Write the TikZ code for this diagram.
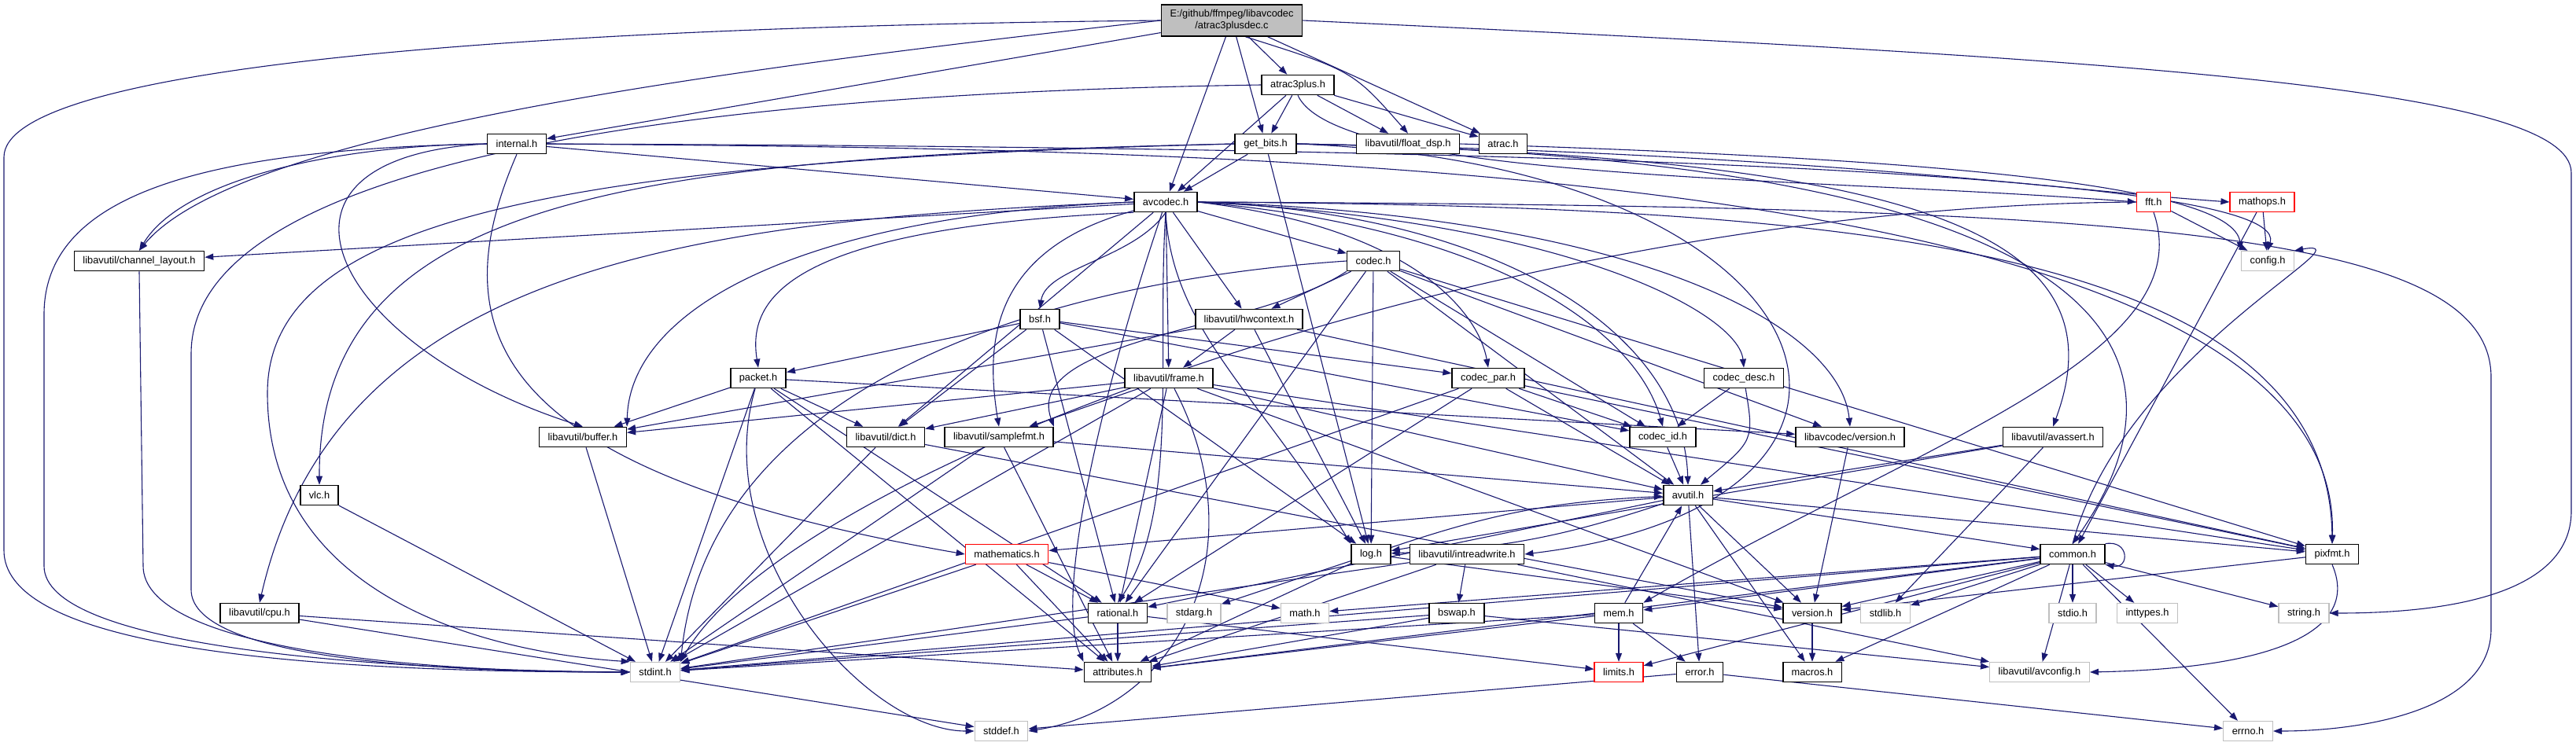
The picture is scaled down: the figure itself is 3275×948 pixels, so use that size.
\documentclass[tikz,border=0pt]{standalone}
\usepackage{fontspec}
\setmainfont{Liberation Sans}
\usepackage{tikz}
\usetikzlibrary{arrows.meta, backgrounds}
\usepackage{xcolor}
\definecolor{incblue}{HTML}{191970}
\definecolor{sysgray}{HTML}{BFBFBF}
\definecolor{cutred}{HTML}{FF0000}
\definecolor{srcfill}{HTML}{BFBFBF}

\begin{document}
\begin{tikzpicture}[x=0.5pt, y=-0.5pt, font=\fontsize{6.4}{7.6}\selectfont,
  hdr/.style={draw=black, fill=white, line width=0.8pt, inner xsep=5.5pt, inner ysep=0pt, minimum height=12.5pt},
  syshdr/.style={hdr, draw=sysgray, line width=0.7pt},
  cuthdr/.style={hdr, draw=cutred, line width=0.7pt},
  inc/.style={draw=incblue, line width=0.55pt, -{Triangle[length=5.5pt, width=4pt]}}]
\useasboundingbox (0,0) rectangle (3275,948);

% Source file
\node[hdr, fill=srcfill, align=center, minimum height=20pt] (mainsrc) at (1566,26) {E:/github/ffmpeg/libavcodec\\/atrac3plusdec.c};

% libavcodec headers
\node[hdr] (atracplus) at (1650,108) {atrac3plus.h};
\node[hdr] (getbits) at (1609,183) {get\_bits.h};
\node[hdr] (floatdsp) at (1790,183) {libavutil/float\_dsp.h};
\node[hdr] (atrach) at (1911,183) {atrac.h};
\node[hdr] (internal) at (657,183) {internal.h};
\node[hdr] (avcodec) at (1482,257) {avcodec.h};
\node[cuthdr] (ffth) at (2738,257) {fft.h};
\node[cuthdr] (mathops) at (2876,257) {mathops.h};
\node[hdr] (chlayout) at (177,332) {libavutil/channel\_layout.h};
\node[hdr] (codech) at (1746,332) {codec.h};
\node[syshdr] (configh) at (2883,332) {config.h};
\node[hdr] (bsfh) at (1322,406) {bsf.h};
\node[hdr] (hwctx) at (1588,406) {libavutil/hwcontext.h};
\node[hdr] (packeth) at (964,481) {packet.h};
\node[hdr] (frameh) at (1486,481) {libavutil/frame.h};
\node[hdr] (codecpar) at (1892,481) {codec\_par.h};
\node[hdr] (codecdesc) at (2217,481) {codec\_desc.h};
\node[hdr] (bufferh) at (741,556) {libavutil/buffer.h};
\node[hdr] (dicth) at (1126,556) {libavutil/dict.h};
\node[hdr] (samplefmt) at (1270,556) {libavutil/samplefmt.h};
\node[hdr] (codecid) at (2114,556) {codec\_id.h};
\node[hdr] (lavcver) at (2352,556) {libavcodec/version.h};
\node[hdr] (avassert) at (2610,556) {libavutil/avassert.h};
\node[hdr] (vlch) at (406,630) {vlc.h};

% libavutil headers
\node[hdr] (avutil) at (2146,630) {avutil.h};
\node[cuthdr] (mathem) at (1280,705) {mathematics.h};
\node[hdr] (logh) at (1743,705) {log.h};
\node[hdr] (intrw) at (1865,705) {libavutil/intreadwrite.h};
\node[hdr] (commonh) at (2635,705) {common.h};
\node[hdr] (pixfmt) at (2965,705) {pixfmt.h};
\node[hdr] (cpuh) at (330,780) {libavutil/cpu.h};
\node[hdr] (rationalh) at (1421,780) {rational.h};
\node[syshdr] (stdargh) at (1518,780) {stdarg.h};
\node[syshdr] (mathh) at (1659,780) {math.h};
\node[hdr] (bswaph) at (1852,780) {bswap.h};
\node[hdr] (memh) at (2058,780) {mem.h};
\node[hdr] (versionh) at (2304,780) {version.h};
\node[syshdr] (stdlibh) at (2397,780) {stdlib.h};
\node[syshdr] (stdioh) at (2635,780) {stdio.h};
\node[syshdr] (inttypesh) at (2730,780) {inttypes.h};
\node[syshdr] (stringh) at (2929,780) {string.h};
\node[syshdr] (stdinth) at (833,855) {stdint.h};
\node[hdr] (attribh) at (1421,855) {attributes.h};
\node[cuthdr] (limitsh) at (2058,855) {limits.h};
\node[hdr] (errorh) at (2161,855) {error.h};
\node[hdr] (macrosh) at (2304,855) {macros.h};
\node[syshdr] (avconfig) at (2593,855) {libavutil/avconfig.h};
\node[syshdr] (stddefh) at (1273,930) {stddef.h};
\node[syshdr] (errnoh) at (2858,930) {errno.h};

\begin{scope}[on background layer]
\fill[white] (0,0) rectangle (3275,948);

% atrac3plusdec.c
\draw[inc] (mainsrc.west) .. controls (600,35) and (5,90) .. (5,200) -- (5,700) .. controls (5,810) and (300,855) .. (stdinth.west);
\draw[inc] (mainsrc.east) .. controls (2700,75) and (3269,110) .. (3269,220) -- (3269,650) .. controls (3269,760) and (3100,780) .. (stringh.east);
\draw[inc] (mainsrc) -- (internal);
\draw[inc] (mainsrc.west) .. controls (900,90) and (300,170) .. (chlayout.north);
\draw[inc] (mainsrc) -- (avcodec);
\draw[inc] (mainsrc) -- (getbits);
\draw[inc] (mainsrc) -- (atracplus);
\draw[inc] (mainsrc.-50) .. controls (1720,90) .. (floatdsp.north);
\draw[inc] (mainsrc) -- (atrach);

% atrac3plus.h
\draw[inc] (atracplus) -- (getbits);
\draw[inc] (atracplus) -- (avcodec);
\draw[inc] (atracplus) -- (floatdsp);
\draw[inc] (atracplus) -- (atrach);
\draw[inc] (atracplus.south) .. controls (1700,230) and (2300,225) .. (ffth.west);
\draw[inc] (atracplus.west) .. controls (800,120) and (243,220) .. (243,450) -- (243,750) .. controls (243,830) and (500,855) .. (stdinth.west);

% get_bits.h
\draw[inc] (getbits) -- (avcodec);
\draw[inc] (getbits.west) .. controls (800,200) and (405,250) .. (vlch.north);
\draw[inc] (getbits.west) .. controls (700,205) and (340,280) .. (340,500) .. controls (340,760) and (620,830) .. (stdinth.north west);
\draw[inc] (getbits) -- (logh);
\draw[inc] (getbits.east) .. controls (2300,195) and (2600,240) .. (mathops.west);
\draw[inc] (getbits.east) .. controls (2450,200) and (2700,300) .. (avassert.north);
\draw[inc] (getbits.east) .. controls (2650,200) and (2820,430) .. (commonh.north);
\draw[inc] (getbits.east) .. controls (2350,210) and (2480,640) .. (intrw.east);

% internal.h
\draw[inc] (internal) -- (avcodec);
\draw[inc] (internal.west) .. controls (420,185) and (230,230) .. (chlayout.north);
\draw[inc] (internal.west) .. controls (250,190) and (56,250) .. (56,400) -- (56,720) .. controls (56,820) and (450,852) .. (stdinth.west);
\draw[inc] (internal.west) .. controls (300,200) and (420,440) .. (bufferh.north);
\draw[inc] (internal.south) .. controls (560,420) and (620,600) .. (mathem.west);
\draw[inc] (internal.east) .. controls (1500,190) and (2980,195) .. (pixfmt.north);
\draw[inc] (internal.east) .. controls (1500,186) and (2920,200) .. (configh.north);

% avcodec.h
\draw[inc] (avcodec) -- (chlayout);
\draw[inc] (avcodec.west) .. controls (900,280) and (430,330) .. (cpuh.north);
\draw[inc] (avcodec.west) .. controls (1000,275) and (800,400) .. (bufferh.north east);
\draw[inc] (avcodec.south west) .. controls (1000,290) and (950,380) .. (packeth.north);
\draw[inc] (avcodec) -- (dicth);
\draw[inc] (avcodec) .. controls (1250,320) and (1255,450) .. (samplefmt.north);
\draw[inc] (avcodec.south) .. controls (1440,330) and (1330,340) .. (bsfh.north);
\draw[inc] (avcodec) -- (frameh);
\draw[inc] (avcodec) -- (hwctx);
\draw[inc] (avcodec) -- (codech);
\draw[inc] (avcodec.south) .. controls (1490,420) and (1600,500) .. (logh.north west);
\draw[inc] (avcodec.south) .. controls (1470,450) and (1500,650) .. (rationalh.north);
\draw[inc] (avcodec) .. controls (1400,500) and (1340,760) .. (attribh.north west);
\draw[inc] (avcodec.east) .. controls (1900,270) and (2140,420) .. (avutil.north);
\draw[inc] (avcodec.east) .. controls (2300,262) and (2960,300) .. (pixfmt.north);
\draw[inc] (avcodec.east) .. controls (2700,262) and (3167,290) .. (3167,480) -- (3167,800) .. controls (3167,905) and (3000,930) .. (errnoh.east);
\draw[inc] (avcodec.east) .. controls (2000,280) and (2210,400) .. (codecdesc.north);
\draw[inc] (avcodec.east) .. controls (1800,290) and (1880,400) .. (codecpar.north);
\draw[inc] (avcodec.east) .. controls (1900,290) and (2080,420) .. (codecid.north);
\draw[inc] (avcodec.east) .. controls (2100,275) and (2340,420) .. (lavcver.north);

% codec.h
\draw[inc] (codech) -- (hwctx);
\draw[inc] (codech) -- (logh);
\draw[inc] (codech) -- (rationalh);
\draw[inc] (codech.south west) .. controls (1600,420) and (1300,430) .. (samplefmt.north east);
\draw[inc] (codech) -- (codecid);
\draw[inc] (codech) -- (avutil);
\draw[inc] (codech) -- (pixfmt);
\draw[inc] (codech) -- (lavcver);
\draw[inc] (codech.west) .. controls (1300,360) and (900,500) .. (stdinth.north east);

% bsf.h
\draw[inc] (bsfh) -- (packeth);
\draw[inc] (bsfh) -- (dicth);
\draw[inc] (bsfh) -- (logh);
\draw[inc] (bsfh) -- (rationalh);
\draw[inc] (bsfh) -- (codecid);
\draw[inc] (bsfh) -- (codecpar);

% hwcontext.h
\draw[inc] (hwctx) -- (frameh);
\draw[inc] (hwctx) -- (bufferh);
\draw[inc] (hwctx) -- (logh);
\draw[inc] (hwctx) -- (pixfmt);

% packet.h
\draw[inc] (packeth) -- (bufferh);
\draw[inc] (packeth) -- (dicth);
\draw[inc] (packeth) -- (stdinth);
\draw[inc] (packeth) -- (rationalh);
\draw[inc] (packeth) -- (attribh);
\draw[inc] (packeth) .. controls (900,700) and (1100,930) .. (stddefh.west);
\draw[inc] (packeth) -- (lavcver);

% frame.h
\draw[inc] (frameh) -- (bufferh);
\draw[inc] (frameh) -- (dicth);
\draw[inc] (frameh) -- (samplefmt);
\draw[inc] (frameh) -- (rationalh);
\draw[inc] (frameh) -- (stdinth);
\draw[inc] (frameh) -- (avutil);
\draw[inc] (frameh) -- (pixfmt);
\draw[inc] (frameh) -- (versionh);
\draw[inc] (frameh) .. controls (1600,700) and (1500,900) .. (stddefh.east);

% codec_par.h, codec_desc.h
\draw[inc] (codecpar) -- (codecid);
\draw[inc] (codecpar) -- (avutil);
\draw[inc] (codecpar) -- (rationalh);
\draw[inc] (codecpar) -- (pixfmt);
\draw[inc] (codecpar) -- (stdinth);
\draw[inc] (codecdesc) -- (codecid);
\draw[inc] (codecdesc) .. controls (2230,560) .. (avutil);

% small headers
\draw[inc] (bufferh) -- (stdinth);
\draw[inc] (dicth) -- (stdinth);
\draw[inc] (dicth) -- (versionh);
\draw[inc] (samplefmt) -- (stdinth);
\draw[inc] (samplefmt) -- (avutil);
\draw[inc] (samplefmt) -- (attribh);
\draw[inc] (codecid) -- (avutil);
\draw[inc] (lavcver) -- (versionh);
\draw[inc] (avassert) -- (stdlibh);
\draw[inc] (avassert) -- (avutil);
\draw[inc] (avassert) -- (logh);
\draw[inc] (vlch) -- (stdinth);
\draw[inc] (chlayout.south) -- (182,720) .. controls (182,820) and (500,855) .. (stdinth.west);
\draw[inc] (cpuh) -- (attribh);
\draw[inc] (cpuh) -- (stddefh);
\draw[inc] (floatdsp.east) .. controls (2400,200) and (2840,230) .. (configh.north west);
\draw[inc] (ffth) -- (configh);
\draw[inc] (ffth.south) .. controls (2800,450) and (2450,560) .. (memh.north east);
\draw[inc] (ffth.west) .. controls (1900,262) and (1000,600) .. (stdinth.north east);
\draw[inc] (mathops) -- (configh);
\draw[inc] (mathops) -- (commonh);

% avutil.h
\draw[inc] (avutil) -- (commonh);
\draw[inc] (avutil) -- (errorh);
\draw[inc] (avutil) -- (macrosh);
\draw[inc] (avutil) -- (mathem);
\draw[inc] (avutil) -- (rationalh);
\draw[inc] (avutil) -- (versionh);
\draw[inc] (avutil) to[bend left=8] (logh);
\draw[inc] (avutil) -- (pixfmt);

% mathematics.h, log.h
\draw[inc] (mathem) -- (stdinth);
\draw[inc] (mathem) -- (mathh);
\draw[inc] (mathem) -- (attribh);
\draw[inc] (mathem) -- (rationalh);
\draw[inc] (logh) -- (stdargh);
\draw[inc] (logh) to[bend left=8] (avutil);
\draw[inc] (logh) -- (attribh);
\draw[inc] (logh) -- (versionh);

% intreadwrite.h
\draw[inc] (intrw) -- (stdinth);
\draw[inc] (intrw) -- (avconfig);
\draw[inc] (intrw) -- (attribh);
\draw[inc] (intrw) -- (bswaph);

% common.h
\draw[inc] (commonh) -- (errnoh);
\draw[inc] (commonh) -- (inttypesh);
\draw[inc] (commonh) -- (limitsh);
\draw[inc] (commonh) -- (mathh);
\draw[inc] (commonh) -- (stdinth);
\draw[inc] (commonh) -- (stdioh);
\draw[inc] (commonh) -- (stdlibh);
\draw[inc] (commonh) -- (stringh);
\draw[inc] (commonh) -- (attribh);
\draw[inc] (commonh) -- (macrosh);
\draw[inc] (commonh) -- (versionh);
\draw[inc] (commonh) -- (avconfig);
\draw[inc] (commonh) -- (memh);
\draw[inc] (commonh.north) .. controls (2700,450) and (3020,300) .. (configh.north east);
\draw[inc] (commonh.north east) to[out=10, in=-10, looseness=3] (commonh.south east);

% mem.h, bswap.h, rational.h
\draw[inc] (memh) -- (limitsh);
\draw[inc] (memh) -- (errorh);
\draw[inc] (memh) -- (avutil);
\draw[inc] (memh) -- (stdinth);
\draw[inc] (memh) -- (attribh);
\draw[inc] (bswaph) -- (stdinth);
\draw[inc] (bswaph) -- (attribh);
\draw[inc] (bswaph) -- (avconfig);
\draw[inc] (rationalh) -- (stdinth);
\draw[inc] (rationalh) -- (attribh);
\draw[inc] (rationalh) -- (limitsh);

% version.h, error.h, pixfmt.h
\draw[inc] (versionh) -- (macrosh);
\draw[inc] (errorh) -- (errnoh);
\draw[inc] (errorh) -- (stddefh);
\draw[inc] (pixfmt.south) .. controls (3000,800) and (2900,850) .. (avconfig.east);
\draw[inc] (pixfmt) -- (versionh);
\end{scope}

\end{tikzpicture}
\end{document}
